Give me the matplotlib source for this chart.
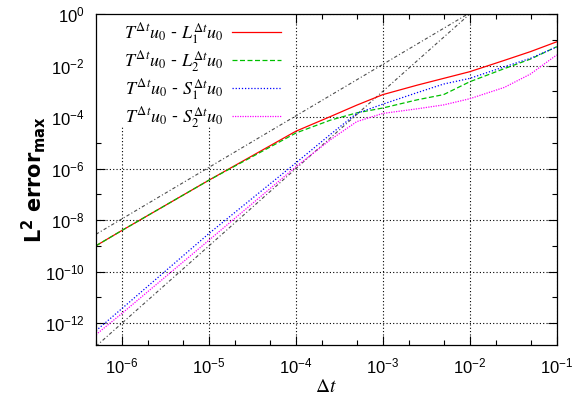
import numpy as np
import matplotlib
matplotlib.use("Agg")
import matplotlib.pyplot as plt
from matplotlib.patches import Rectangle
from matplotlib.ticker import FixedLocator, FuncFormatter, NullFormatter

plt.rcParams['font.family'] = ['Liberation Sans', 'DejaVu Sans']
plt.rcParams['mathtext.fontset'] = 'dejavusans'

# time steps (common grid for all four curves)
dt = [5e-7, 1e-6, 1e-5, 1e-4, 2.5e-4, 5e-4, 1e-3, 2.5e-3, 5e-3, 1e-2, 2.5e-2, 5e-2, 1e-1]

# log10 of the max L2 error
log_L1 = [-9.00, -8.40, -6.45, -4.55, -3.98, -3.54, -3.13, -2.76, -2.50, -2.24, -1.80, -1.46, -1.08]
log_L2 = [-9.00, -8.40, -6.45, -4.62, -4.12, -3.84, -3.65, -3.33, -3.13, -2.63, -2.12, -1.75, -1.27]
log_S1 = [-12.30, -11.43, -8.52, -5.78, -4.67, -3.86, -3.50, -3.05, -2.72, -2.50, -2.05, -1.72, -1.28]
log_S2 = [-12.45, -11.62, -8.78, -5.93, -4.88, -4.18, -3.86, -3.68, -3.53, -3.29, -2.85, -2.33, -1.59]

# reference slopes (order 2 and order 3), end points
ref2_dt = [5e-7, 9.5e-3]
ref2_err = [2.8e-9, 1.0]
ref3_dt = [5e-7, 1e-2]
ref3_err = [1.25e-13, 1.0]

labels = [r'$T^{\Delta t}u_0$ - $L_1^{\Delta t}u_0$',
          r'$T^{\Delta t}u_0$ - $L_2^{\Delta t}u_0$',
          r'$T^{\Delta t}u_0$ - $S_1^{\Delta t}u_0$',
          r'$T^{\Delta t}u_0$ - $S_2^{\Delta t}u_0$']

xmajor = [1e-6, 1e-5, 1e-4, 1e-3, 1e-2, 1e-1]
ymajor = [1e-12, 1e-10, 1e-8, 1e-6, 1e-4, 1e-2, 1e0]

fig = plt.figure(figsize=(5.8, 3.99), dpi=100)
ax = fig.add_axes([0.1655, 0.1353, 0.7943, 0.8296])
ax.set_xscale('log')
ax.set_yscale('log')

# white key area hides the grid behind the legend
ax.add_patch(Rectangle((0, 0.66), 0.425, 0.34, transform=ax.transAxes,
                       facecolor='white', edgecolor='none', zorder=1))

ax.plot(ref2_dt, ref2_err, color='0.3', lw=0.8, ls=(0, (3, 2, 1, 2)), zorder=2)
ax.plot(ref3_dt, ref3_err, color='0.3', lw=0.8, ls=(0, (3, 2, 1, 2)), zorder=2)

ax.plot(dt, 10 ** np.array(log_L1), color='#ff0000', lw=0.9, ls='-', label=labels[0], zorder=3)
ax.plot(dt, 10 ** np.array(log_L2), color='#00c000', lw=0.9, ls=(0, (4, 2)), label=labels[1], zorder=3)
ax.plot(dt, 10 ** np.array(log_S1), color='#0000ff', lw=0.9, ls=(0, (1, 1.5)), label=labels[2], zorder=3)
ax.plot(dt, 10 ** np.array(log_S2), color='#ff00ff', lw=0.9, ls=(0, (1, 1)), label=labels[3], zorder=3)

ax.set_xlim(5e-7, 1e-1)
ax.set_ylim(1.4e-13, 1)

ax.xaxis.set_major_locator(FixedLocator(xmajor))
ax.xaxis.set_minor_locator(FixedLocator([m * 10.0 ** k for k in range(-7, -1) for m in (2, 5)]))
ax.yaxis.set_major_locator(FixedLocator(ymajor))
ax.yaxis.set_minor_locator(FixedLocator([10.0 ** k for k in range(-13, 0, 2)]))

fmt = FuncFormatter(lambda v, p: r'$\mathregular{10^{%d}}$' % round(np.log10(v)))
ax.xaxis.set_major_formatter(fmt)
ax.yaxis.set_major_formatter(fmt)
ax.xaxis.set_minor_formatter(NullFormatter())
ax.yaxis.set_minor_formatter(NullFormatter())

ax.tick_params(which='both', direction='in', top=True, right=True, labelsize=12)
ax.tick_params(which='major', length=6.5, width=0.8, pad=8)
ax.tick_params(which='minor', length=3.5, width=0.8)

ax.grid(True, which='major', color='black', lw=0.8, ls=(0, (1, 2)))
ax.set_axisbelow(True)

for sp in ax.spines.values():
    sp.set_linewidth(0.9)
    sp.set_zorder(4)

xl = ax.set_xlabel(r'$\Delta t$', fontsize=14, labelpad=2)
xl.set_math_fontfamily('stix')
ax.set_ylabel(r'$\mathbf{L^2\ error_{max}}$', fontsize=15, labelpad=-2)

leg = ax.legend(loc='upper right', bbox_to_anchor=(0.413, 0.995), borderaxespad=0.0,
                markerfirst=False, fontsize=13, handlelength=2.7, handletextpad=0.45,
                labelspacing=0.18, borderpad=0.3, frameon=False)
for t in leg.get_texts():
    t.set_math_fontfamily('stix')

fig.savefig('out.png', dpi=100)
